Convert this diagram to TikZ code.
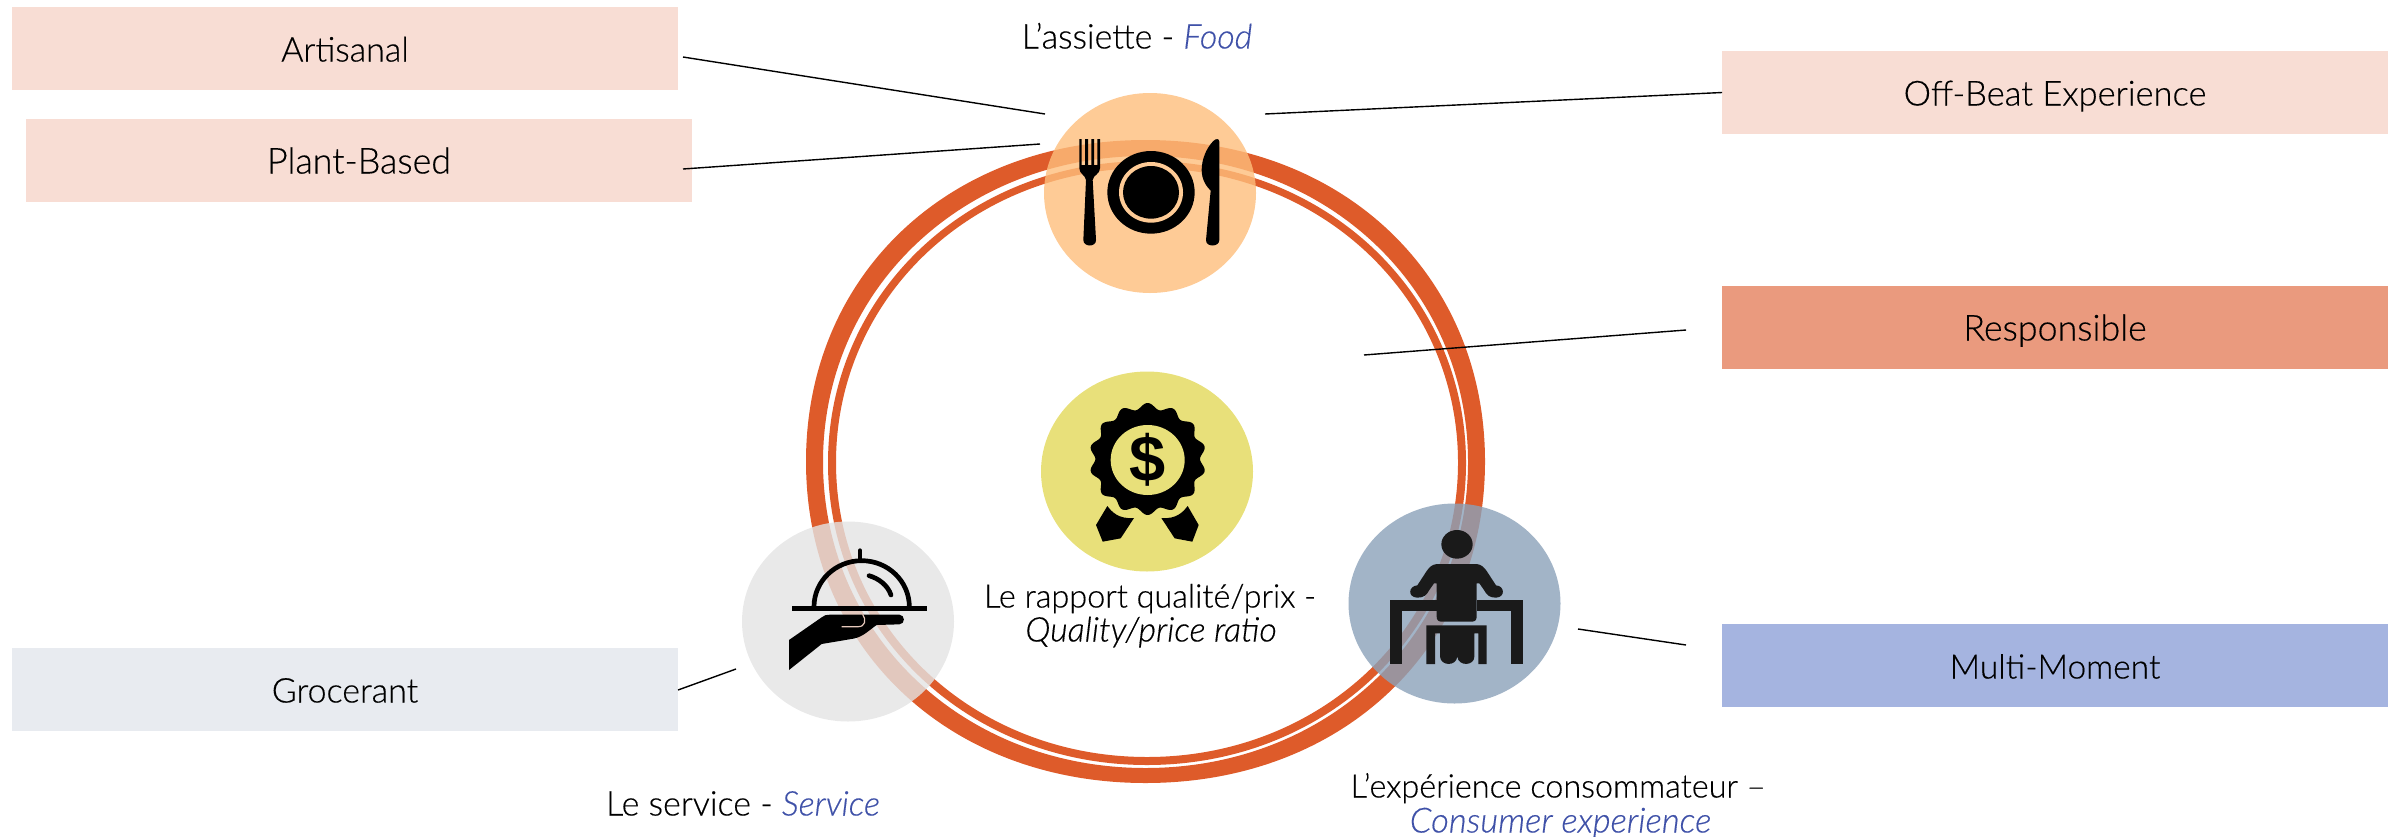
\documentclass[tikz,border=0pt]{standalone}
\usepackage{fontspec}
\setmainfont{Lato Light}[FakeBold=0.35]
\newfontfamily\iconfont{Liberation Sans}
\usetikzlibrary{shapes.geometric}
\definecolor{ringc}{HTML}{DE5B2A}
\definecolor{pinkbox}{HTML}{F8DDD4}
\definecolor{respbox}{HTML}{EA9A7E}
\definecolor{multibox}{HTML}{A5B4E0}
\definecolor{grocbox}{HTML}{E8EBF0}
\definecolor{bluetxt}{HTML}{3F51A8}
% cx cy rx ry k: closed oval from four Bezier arcs, k sets how full it is
\newcommand{\ovalpath}[5]{({#1+#3},#2) .. controls ({#1+#3},{#2+#5*#4}) and ({#1+#5*#3},{#2+#4}) .. (#1,{#2+#4}) .. controls ({#1-#5*#3},{#2+#4}) and ({#1-#3},{#2+#5*#4}) .. ({#1-#3},#2) .. controls ({#1-#3},{#2-#5*#4}) and ({#1-#5*#3},{#2-#4}) .. (#1,{#2-#4}) .. controls ({#1+#5*#3},{#2-#4}) and ({#1+#3},{#2-#5*#4}) .. ({#1+#3},#2) -- cycle}
\newcommand{\fs}[1]{\fontsize{#1}{#1}\selectfont}
\tikzset{
  tagbox/.style={rectangle,inner sep=0pt,outer sep=0pt,minimum width=666pt,minimum height=83pt,text height=26pt,text depth=0pt,font=\fs{34},text=black},
  disc/.style={ellipse,inner sep=0pt,outer sep=0pt,minimum width=212pt,minimum height=200pt,fill opacity=0.8},
  capt/.style={anchor=base,inner sep=0pt,font=\fs{34},text=black},
  link/.style={draw=black,line width=1.4pt},
}
\begin{document}
\begin{tikzpicture}[x=1pt,y=-1pt]
\useasboundingbox (0,0) rectangle (2400,836);
% ring
\fill[ringc,even odd rule] \ovalpath{1145.5}{461.5}{339.5}{321.5}{0.58} \ovalpath{1145.5}{462}{322.5}{306}{0.565};
\fill[ringc,even odd rule] \ovalpath{1147}{463}{319}{302}{0.56} \ovalpath{1147}{462.5}{311}{294.5}{0.56};
% boxes
\node[tagbox,fill=pinkbox] (artisanal) at (345,48.5) {Artisanal};
\node[tagbox,fill=pinkbox,font=\fs{35.8}] (plant) at (359,160.5) {Plant-Based};
\node[tagbox,fill=pinkbox,font=\fs{34.5}] (offbeat) at (2055,92.5) {Off-Beat Experience};
\node[tagbox,fill=respbox,font=\fs{35.8}] (responsible) at (2055,327.5) {Responsible};
\node[tagbox,fill=multibox,font=\fs{33.5}] (multi) at (2055,665.5) {Multi-Moment};
\node[tagbox,fill=grocbox] (grocerant) at (345,689.5) {Grocerant};
% discs
\node[disc,fill={rgb,255:red,254;green,190;blue,124}] (food) at (1150,193) {};
\node[disc,fill={rgb,255:red,228;green,228;blue,228}] (service) at (848,621.5) {};
\node[disc,fill={rgb,255:red,139;green,161;blue,185}] (consumer) at (1454.5,603.5) {};
\node[disc,fill={rgb,255:red,232;green,224;blue,122},fill opacity=1] (price) at (1147,471.5) {};
% connector ends
\coordinate (a1) at (683,57);
\coordinate (a2) at (1045,114);
\coordinate (p1) at (683,169);
\coordinate (p2) at (1040,144);
\coordinate (o2) at (1265,114);
\coordinate (r1) at (1364,355);
\coordinate (r2) at (1686,330);
\coordinate (m1) at (1578,629);
\coordinate (m2) at (1686,645);
\coordinate (g2) at (736,669);
\draw[link] (a1) -- (a2);
\draw[link] (p1) -- (p2);
\draw[link] (offbeat.west) -- (o2);
\draw[link] (r1) -- (r2);
\draw[link] (m1) -- (m2);
\draw[link] ([yshift=-0.5pt]grocerant.east) -- (g2);
% captions
\node[capt] (t1) at (1137,48.5) {L’assiette - \textcolor{bluetxt}{\itshape Food}};
\node[capt,font=\fs{32.4}] (t2) at (1150,607.5) {Le rapport qualité/prix -};
\node[capt] (t3) at (1151,641.5) {\itshape Quality/price ratio};
\node[capt] (t4) at (743,815.5) {Le service - \textcolor{bluetxt}{\itshape Service}};
\node[capt,font=\fs{32.4}] (t5) at (1558,797.5) {L’expérience consommateur –};
\node[capt,font=\fs{34.6}] (t6) at (1560.5,832.5) {\textcolor{bluetxt}{\itshape Consumer experience}};
% cutlery icon
\begin{scope}[shift={(1000pt,-60pt)},x=0.33333pt,y=-0.33333pt]
\fill[black] (238,237) -- (245,237) -- (245,315) -- (255,315) -- (255,237) -- (264,237) -- (264,315) -- (274,315) -- (274,237) -- (282,237) -- (282,315) -- (292,315) -- (292,237) -- (300,237) -- (300,325)
  .. controls (300,342) and (280,345) .. (278,360) -- (288,540) .. controls (289,562) and (250,562) .. (250,540) -- (258,360) .. controls (256,345) and (238,342) .. (238,325) -- cycle;
\fill[black] (453,397) ellipse [x radius=131,y radius=124];
\fill[fill={rgb,255:red,254;green,203;blue,150}] (453,397) ellipse [x radius=96,y radius=91];
\fill[black] (453,397) ellipse [x radius=84,y radius=79];
\fill[black] (658,245) .. controls (658,235) and (648,235) .. (640,243) .. controls (618,265) and (605,300) .. (605,330) .. controls (605,360) and (620,380) .. (632,392) -- (618,540) .. controls (617,562) and (658,562) .. (658,540) -- cycle;
\end{scope}
% award icon
\begin{scope}[shift={(1000pt,-360pt)},x=0.33333pt,y=-0.33333pt]
\fill[black] plot[domain=0:360,samples=281,smooth] ({443+(166+9*cos(14*(\x-90)))*cos(\x)},{297+(159+9*cos(14*(\x-90)))*sin(\x)}) -- cycle;
\fill[fill={rgb,255:red,232;green,224;blue,122}] (443,300) ellipse [x radius=111,y radius=105];
\node[inner sep=0pt,font=\iconfont\bfseries\fontsize{65}{65}\selectfont,text=black] (dollar) at (443,298) {\$};
\fill[black] (322,438) .. controls (335,455) and (355,478) .. (402,474) -- (362,535) -- (308,545) -- (288,495) -- cycle;
\fill[black] (563,438) .. controls (550,455) and (530,478) .. (484,474) -- (524,535) -- (577,545) -- (596,495) -- cycle;
\end{scope}
% cloche icon
\begin{scope}[shift={(720pt,-510pt)},x=0.33333pt,y=-0.33333pt]
\fill[black] (217,287) rectangle (622,303);
\draw[black,line width=4.7pt] (282,290) arc [start angle=180,end angle=360,x radius=143,y radius=138];
\draw[black,line width=4.7pt,line cap=round] (420,122) -- (420,150);
\draw[black,line width=4.7pt,line cap=round] (447,197) .. controls (475,205) and (503,225) .. (513,255);
\fill[black] (207,390) -- (305,322) .. controls (312,315) and (320,314) .. (330,314) -- (538,314) .. controls (556,314) and (556,343) .. (538,343) -- (470,345) .. controls (445,362) and (430,380) .. (400,386) -- (305,402) -- (207,480) -- cycle;
\draw[fill=none,draw={rgb,255:red,230;green,200;blue,187},line width=1.2pt] (365,350) -- (415,350) .. controls (435,350) and (440,330) .. (428,313);
\end{scope}
% person icon
\begin{scope}[shift={(1330pt,-490pt)},x=0.33333pt,y=-0.33333pt]
\definecolor{personc}{HTML}{1A1A1A}
\fill[personc] (381,163) ellipse [x radius=47,y radius=43];
\fill[personc] (181,329) rectangle (320,362);
\fill[personc] (440,329) rectangle (578,362);
\fill[personc] (181,329) rectangle (217,522);
\fill[personc] (542,329) rectangle (578,522);
\fill[personc] (320,222) .. controls (305,224) and (298,232) .. (290,243) -- (262,286) .. controls (235,288) and (232,322) .. (262,323) .. controls (282,323) and (290,315) .. (298,300) -- (312,280) -- (320,280) -- (320,380) .. controls (320,390) and (325,395) .. (335,395) -- (425,395) .. controls (435,395) and (440,390) .. (440,380) -- (440,280) -- (448,280) -- (462,300) .. controls (470,315) and (478,323) .. (498,323) .. controls (526,322) and (525,288) .. (498,286) -- (470,243) .. controls (462,232) and (455,224) .. (440,222) -- cycle;
\fill[personc] (289,406) -- (470,406) -- (470,522) -- (445,522) -- (445,430) -- (433,430) -- (433,500) .. controls (433,528) and (385,530) .. (382,500) .. controls (378,530) and (332,528) .. (330,500) -- (330,430) -- (315,430) -- (315,522) -- (289,522) -- cycle;
\end{scope}
\end{tikzpicture}
\end{document}
